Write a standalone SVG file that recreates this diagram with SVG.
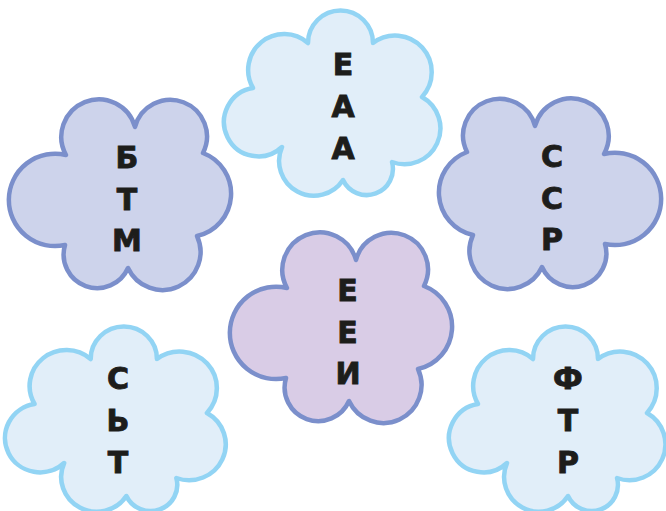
<svg xmlns="http://www.w3.org/2000/svg" xmlns:xlink="http://www.w3.org/1999/xlink" width="666" height="511" viewBox="0 0 666 511">
  <style>
    .dark { fill: #cdd3eb; stroke: #7b8fcb; stroke-width: 4.5; stroke-linejoin: round; }
    .violet { fill: #d9cce6; stroke: #7b8fcb; stroke-width: 4.5; stroke-linejoin: round; }
    .light { fill: #e1eef9; stroke: #92d4f4; stroke-width: 4.5; stroke-linejoin: round; }
    .lbl { font-family: "DejaVu Sans", "Liberation Sans", sans-serif; font-weight: 700; font-size: 30px; fill: #1d1d1b; stroke: #1d1d1b; stroke-width: 0.9; text-anchor: middle; }
  </style>
  <defs>
    <path id="cloudDark" d="M57,55 A37.5,37.5 0 1 1 126,27 A36.6,36.6 0 1 1 194,53 A43.4,43.4 0 0 1 188,136 A38,38 0 0 1 119,168 A33.6,33.6 0 0 1 56,145 A46.2,46.2 0 1 1 57,55 Z"/>
    <path id="cloudLight" d="M28,80 A36,36 0 0 1 83,35 A32.5,32.5 0 0 1 148,35 A36.6,36.6 0 0 1 197,89 A35.9,35.9 0 0 1 167,154 A26.2,26.2 0 0 1 118,172 A34.8,34.8 0 0 1 57,139 A34.4,34.4 0 1 1 28,80 Z"/>
  </defs>
  <rect width="666" height="511" fill="#ffffff"/>
  <g id="connectors"/>
  <g id="node-btm">
    <use xlink:href="#cloudDark" href="#cloudDark" class="dark" transform="translate(9,100)"/>
    <text class="lbl" x="127" y="168">Б</text>
    <text class="lbl" x="127" y="209.5">Т</text>
    <text class="lbl" x="127" y="251">М</text>
  </g>
  <g id="node-eaa">
    <use xlink:href="#cloudLight" href="#cloudLight" class="light" transform="translate(225,8)"/>
    <text class="lbl" x="343" y="75">Е</text>
    <text class="lbl" x="343" y="117">А</text>
    <text class="lbl" x="343" y="159">А</text>
  </g>
  <g id="node-ssr">
    <use xlink:href="#cloudDark" href="#cloudDark" class="dark" transform="translate(661,99) scale(-1,1)"/>
    <text class="lbl" x="552" y="167">С</text>
    <text class="lbl" x="552" y="209">С</text>
    <text class="lbl" x="552" y="250">Р</text>
  </g>
  <g id="node-eei">
    <use xlink:href="#cloudDark" href="#cloudDark" class="violet" transform="translate(230,233)"/>
    <text class="lbl" x="347.5" y="301">Е</text>
    <text class="lbl" x="347.5" y="343">Е</text>
    <text class="lbl" x="348" y="384">И</text>
  </g>
  <g id="node-sjt">
    <use xlink:href="#cloudLight" href="#cloudLight" class="light" transform="translate(6,324) scale(1.02,1)"/>
    <text class="lbl" x="118" y="389">С</text>
    <text class="lbl" x="118" y="431">Ь</text>
    <text class="lbl" x="118" y="473">Т</text>
  </g>
  <g id="node-ftr">
    <use xlink:href="#cloudLight" href="#cloudLight" class="light" transform="translate(450,324)"/>
    <text class="lbl" x="568" y="389">Ф</text>
    <text class="lbl" x="568" y="431">Т</text>
    <text class="lbl" x="568" y="473">Р</text>
  </g>
</svg>
